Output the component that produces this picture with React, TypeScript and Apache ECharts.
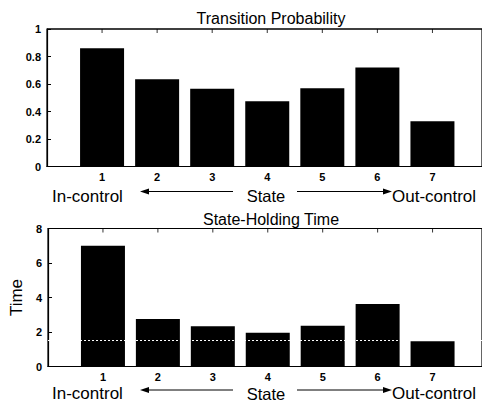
import React, { useEffect, useRef } from "react";
import * as echarts from "echarts";

// States 1..7, from in-control to out-of-control
const states = [1, 2, 3, 4, 5, 6, 7];
const transitionProb = [0.86, 0.635, 0.565, 0.475, 0.57, 0.72, 0.33];
const holdingTime = [7.0, 2.75, 2.33, 1.95, 2.36, 3.62, 1.46];
const probTicks = { min: 0, max: 1, interval: 0.2 };
const timeTicks = { min: 0, max: 8, interval: 2 };
// visible part of the state axis (the box runs on to 8, just past the edge)
const stateRange = { min: 0, max: 7.9 };
const holdLevel = 1.5;

const FONT = "Liberation Sans, Arial, Helvetica, sans-serif";

const xAxisFor = (gridIndex: number) => ({
  type: "value",
  gridIndex,
  position: "bottom",
  min: stateRange.min,
  max: stateRange.max,
  interval: 1,
  axisLine: { show: true, onZero: false, lineStyle: { color: "#000", width: 1.2 } },
  axisTick: { show: true, inside: true, length: 4, lineStyle: { color: "#000" } },
  axisLabel: {
    margin: 5,
    color: "#000",
    fontFamily: FONT,
    fontSize: 11,
    fontWeight: "bold",
    showMaxLabel: false,
    formatter: (v: number) => (v >= 1 && v <= 7 ? String(v) : ""),
  },
  splitLine: { show: false },
});

const yAxisFor = (gridIndex: number, t: { min: number; max: number; interval: number }) => ({
  type: "value",
  gridIndex,
  min: t.min,
  max: t.max,
  interval: t.interval,
  axisLine: { show: true, lineStyle: { color: "#000", width: 1.2 } },
  axisTick: { show: true, inside: true, length: 4, lineStyle: { color: "#000" } },
  axisLabel: {
    margin: 6,
    color: "#000",
    fontFamily: FONT,
    fontSize: 11,
    fontWeight: "bold",
  },
  splitLine: { show: false },
});

// Top border of each plot box as a plain line series
const topBorder = (axisIndex: number, yMax: number) => ({
  type: "line",
  xAxisIndex: axisIndex,
  yAxisIndex: axisIndex,
  silent: true,
  clip: false,
  symbol: "none",
  z: 10,
  lineStyle: { color: "#000", width: 1.2 },
  data: [
    [stateRange.min, yMax],
    [stateRange.max, yMax],
  ],
});

// Inward tick marks hanging from the top border at each state
const topTicks = (axisIndex: number, yMax: number) => ({
  type: "scatter",
  xAxisIndex: axisIndex,
  yAxisIndex: axisIndex,
  silent: true,
  clip: false,
  symbol: "rect",
  symbolSize: [1, 4],
  symbolOffset: [0, 2],
  z: 10,
  itemStyle: { color: "#000" },
  data: states.map((s) => [s, yMax]),
});

const stateCaption = (arrowY: number, textY: number) => {
  const txt = (text: string, x: number, align: string, size: number) => ({
    type: "text",
    x,
    y: textY,
    style: {
      text,
      fill: "#000",
      font: `${size}px ${FONT}`,
      align,
      verticalAlign: "middle",
    },
  });
  const line = (x1: number, x2: number) => ({
    type: "line",
    shape: { x1, y1: arrowY, x2, y2: arrowY },
    style: { stroke: "#000", lineWidth: 1 },
  });
  const head = (tip: number, dir: number) => ({
    type: "polygon",
    shape: {
      points: [
        [tip, arrowY],
        [tip + dir * 9, arrowY - 3],
        [tip + dir * 9, arrowY + 3],
      ],
    },
    style: { fill: "#000" },
  });
  return [
    txt("In-control", 52, "left", 17),
    txt("State", 266, "center", 16.5),
    txt("Out-control", 392, "left", 17),
    line(146, 233),
    head(140, 1),
    line(297, 386),
    head(392, -1),
  ];
};

export default function App() {
  const ref = useRef<HTMLDivElement>(null);

  useEffect(() => {
    if (!ref.current) return;
    const chart = echarts.init(ref.current, undefined, { renderer: "svg" });
    const timeAxis: any = yAxisFor(1, timeTicks);
    timeAxis.name = "Time";
    timeAxis.nameLocation = "middle";
    timeAxis.nameGap = 19;
    timeAxis.nameTextStyle = { color: "#000", fontFamily: FONT, fontSize: 17 };
    chart.setOption({
      animation: false,
      backgroundColor: "#fff",
      textStyle: { fontFamily: FONT },
      title: [
        {
          text: "Transition Probability",
          left: 266,
          top: 5,
          textAlign: "center",
          textStyle: { fontFamily: FONT, fontSize: 16, fontWeight: "normal", color: "#000" },
        },
        {
          text: "State-Holding Time",
          left: 266,
          top: 206,
          textAlign: "center",
          textStyle: { fontFamily: FONT, fontSize: 16, fontWeight: "normal", color: "#000" },
        },
      ],
      grid: [
        { left: 47, top: 29, right: 0, height: 137.5, show: true, borderColor: "#000", borderWidth: 1.2 },
        { left: 47, top: 228.5, right: 0, height: 138, show: true, borderColor: "#000", borderWidth: 1.2 },
      ],
      xAxis: [xAxisFor(0), xAxisFor(1)],
      yAxis: [yAxisFor(0, probTicks), timeAxis],
      series: [
        {
          type: "bar",
          xAxisIndex: 0,
          yAxisIndex: 0,
          barWidth: 44,
          itemStyle: { color: "#000" },
          data: states.map((s, i) => [s, transitionProb[i]]),
        },
        {
          type: "bar",
          xAxisIndex: 1,
          yAxisIndex: 1,
          barWidth: 44,
          itemStyle: { color: "#000" },
          data: states.map((s, i) => [s, holdingTime[i]]),
          markLine: {
            silent: true,
            symbol: "none",
            label: { show: false },
            lineStyle: { color: "#fff", type: [2, 2], width: 1 },
            data: [{ yAxis: holdLevel }],
          },
        },
        topBorder(0, probTicks.max),
        topTicks(0, probTicks.max),
        topBorder(1, timeTicks.max),
        topTicks(1, timeTicks.max),
      ],
      graphic: [...stateCaption(191.5, 196), ...stateCaption(390, 393.5)],
    });
    return () => chart.dispose();
  }, []);

  return (
    <div
      ref={ref}
      style={{ position: "absolute", left: 0, top: 0, width: 482, height: 405, background: "#fff" }}
    />
  );
}
